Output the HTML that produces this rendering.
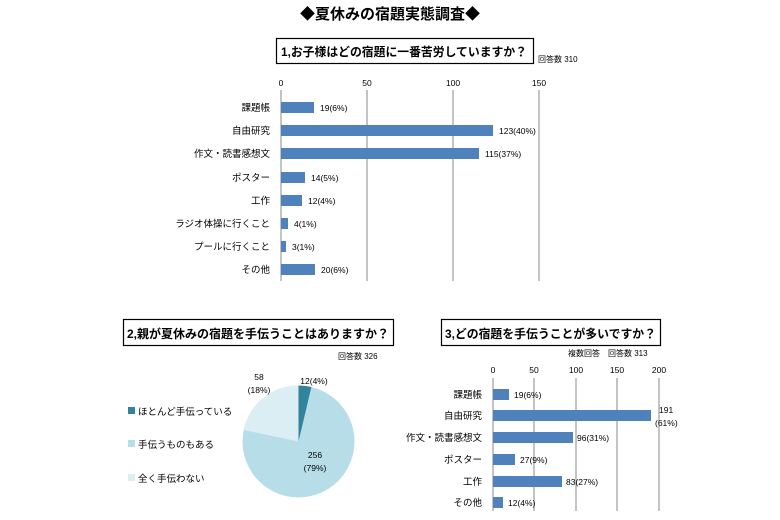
<!DOCTYPE html>
<html><head><meta charset="utf-8"><style>
body{margin:0;background:#fff}
svg{display:block}
text{font-family:"Liberation Sans","Noto Sans CJK JP",sans-serif;fill:#000}
</style></head><body>
<svg width="780" height="520" viewBox="0 0 780 520">
<text x="390" y="19" font-size="15" font-weight="bold" text-anchor="middle">◆夏休みの宿題実態調査◆</text>

<!-- Chart 1 -->
<rect x="276.5" y="38.5" width="257" height="25" fill="#fff" stroke="#000" stroke-width="1.2"/>
<text x="281" y="56" font-size="12" font-weight="bold" textLength="246" lengthAdjust="spacingAndGlyphs">1,お子様はどの宿題に一番苦労していますか？</text>
<text x="538" y="62" font-size="8">回答数 310</text>
<g font-size="8.5" text-anchor="middle">
<text x="281" y="86">0</text><text x="367" y="86">50</text><text x="453" y="86">100</text><text x="539" y="86">150</text>
</g>
<g stroke="#888" stroke-width="1">
<line x1="367" y1="90" x2="367" y2="281"/><line x1="453" y1="90" x2="453" y2="281"/><line x1="539" y1="90" x2="539" y2="281"/>
<line x1="281" y1="90" x2="281" y2="281"/>
</g>
<g fill="#4f81bd">
<rect x="281" y="102" width="33" height="11"/>
<rect x="281" y="125" width="212" height="11"/>
<rect x="281" y="148" width="198" height="11"/>
<rect x="281" y="172" width="24" height="11"/>
<rect x="281" y="195" width="21" height="11"/>
<rect x="281" y="218" width="7" height="11"/>
<rect x="281" y="241" width="5" height="11"/>
<rect x="281" y="264" width="34" height="11"/>
</g>
<g font-size="8.5">
<text x="320" y="111">19(6%)</text><text x="499" y="134">123(40%)</text><text x="485" y="157">115(37%)</text>
<text x="311" y="181">14(5%)</text><text x="308" y="204">12(4%)</text><text x="294" y="227">4(1%)</text>
<text x="292" y="250">3(1%)</text><text x="321" y="273">20(6%)</text>
</g>
<g font-size="9.5" text-anchor="end">
<text x="270" y="111">課題帳</text><text x="270" y="134">自由研究</text><text x="270" y="157">作文・読書感想文</text>
<text x="270" y="181">ポスター</text><text x="270" y="204">工作</text><text x="270" y="227">ラジオ体操に行くこと</text>
<text x="270" y="250">プールに行くこと</text><text x="270" y="273">その他</text>
</g>

<!-- Chart 2 -->
<rect x="123.5" y="319.5" width="270" height="26" fill="#fff" stroke="#000" stroke-width="1.2"/>
<text x="127" y="338" font-size="12" font-weight="bold" textLength="262" lengthAdjust="spacingAndGlyphs">2,親が夏休みの宿題を手伝うことはありますか？</text>
<text x="338" y="359" font-size="8">回答数 326</text>
<circle cx="298.5" cy="441.5" r="56" fill="#b7dee8"/>
<path d="M298.5 441.5 L298.5 385.5 A56 56 0 0 1 311.4 387 Z" fill="#31849b"/>
<path d="M298.5 441.5 L243.7 430 A56 56 0 0 1 298.5 385.5 Z" fill="#dbeef3"/>
<g font-size="8.5" text-anchor="middle">
<text x="259" y="380">58</text><text x="259" y="393">(18%)</text>
<text x="314" y="384">12(4%)</text>
<text x="315" y="458">256</text><text x="315" y="471">(79%)</text>
</g>
<rect x="128" y="407" width="7" height="7" fill="#31849b"/>
<rect x="128" y="440" width="7" height="7" fill="#b7dee8"/>
<rect x="128" y="474" width="7" height="7" fill="#dbeef3"/>
<g font-size="9.5">
<text x="138" y="415">ほとんど手伝っている</text>
<text x="138" y="448">手伝うものもある</text>
<text x="138" y="482">全く手伝わない</text>
</g>

<!-- Chart 3 -->
<rect x="441.5" y="319.5" width="219" height="26" fill="#fff" stroke="#000" stroke-width="1.2"/>
<text x="445" y="338" font-size="12" font-weight="bold" textLength="211" lengthAdjust="spacingAndGlyphs">3,どの宿題を手伝うことが多いですか？</text>
<text x="568" y="356" font-size="8">複数回答　回答数 313</text>
<g font-size="8.5" text-anchor="middle">
<text x="493" y="373">0</text><text x="534" y="373">50</text><text x="576" y="373">100</text><text x="617" y="373">150</text><text x="659" y="373">200</text>
</g>
<g stroke="#888" stroke-width="1">
<line x1="534" y1="378" x2="534" y2="511"/><line x1="576" y1="378" x2="576" y2="511"/><line x1="617" y1="378" x2="617" y2="511"/><line x1="659" y1="378" x2="659" y2="511"/>
<line x1="493" y1="378" x2="493" y2="511"/>
</g>
<g fill="#4f81bd">
<rect x="493" y="389" width="16" height="11"/>
<rect x="493" y="410" width="158" height="11"/>
<rect x="493" y="432" width="80" height="11"/>
<rect x="493" y="454" width="22" height="11"/>
<rect x="493" y="476" width="69" height="11"/>
<rect x="493" y="497" width="10" height="11"/>
</g>
<g font-size="8.5">
<text x="514" y="398">19(6%)</text>
<text x="659" y="413">191</text><text x="655" y="426">(61%)</text>
<text x="577" y="441">96(31%)</text><text x="520" y="463">27(9%)</text>
<text x="566" y="485">83(27%)</text><text x="508" y="506">12(4%)</text>
</g>
<g font-size="9.5" text-anchor="end">
<text x="482" y="398">課題帳</text><text x="482" y="419">自由研究</text><text x="482" y="441">作文・読書感想文</text>
<text x="482" y="463">ポスター</text><text x="482" y="485">工作</text><text x="482" y="506">その他</text>
</g>
</svg>
</body></html>
